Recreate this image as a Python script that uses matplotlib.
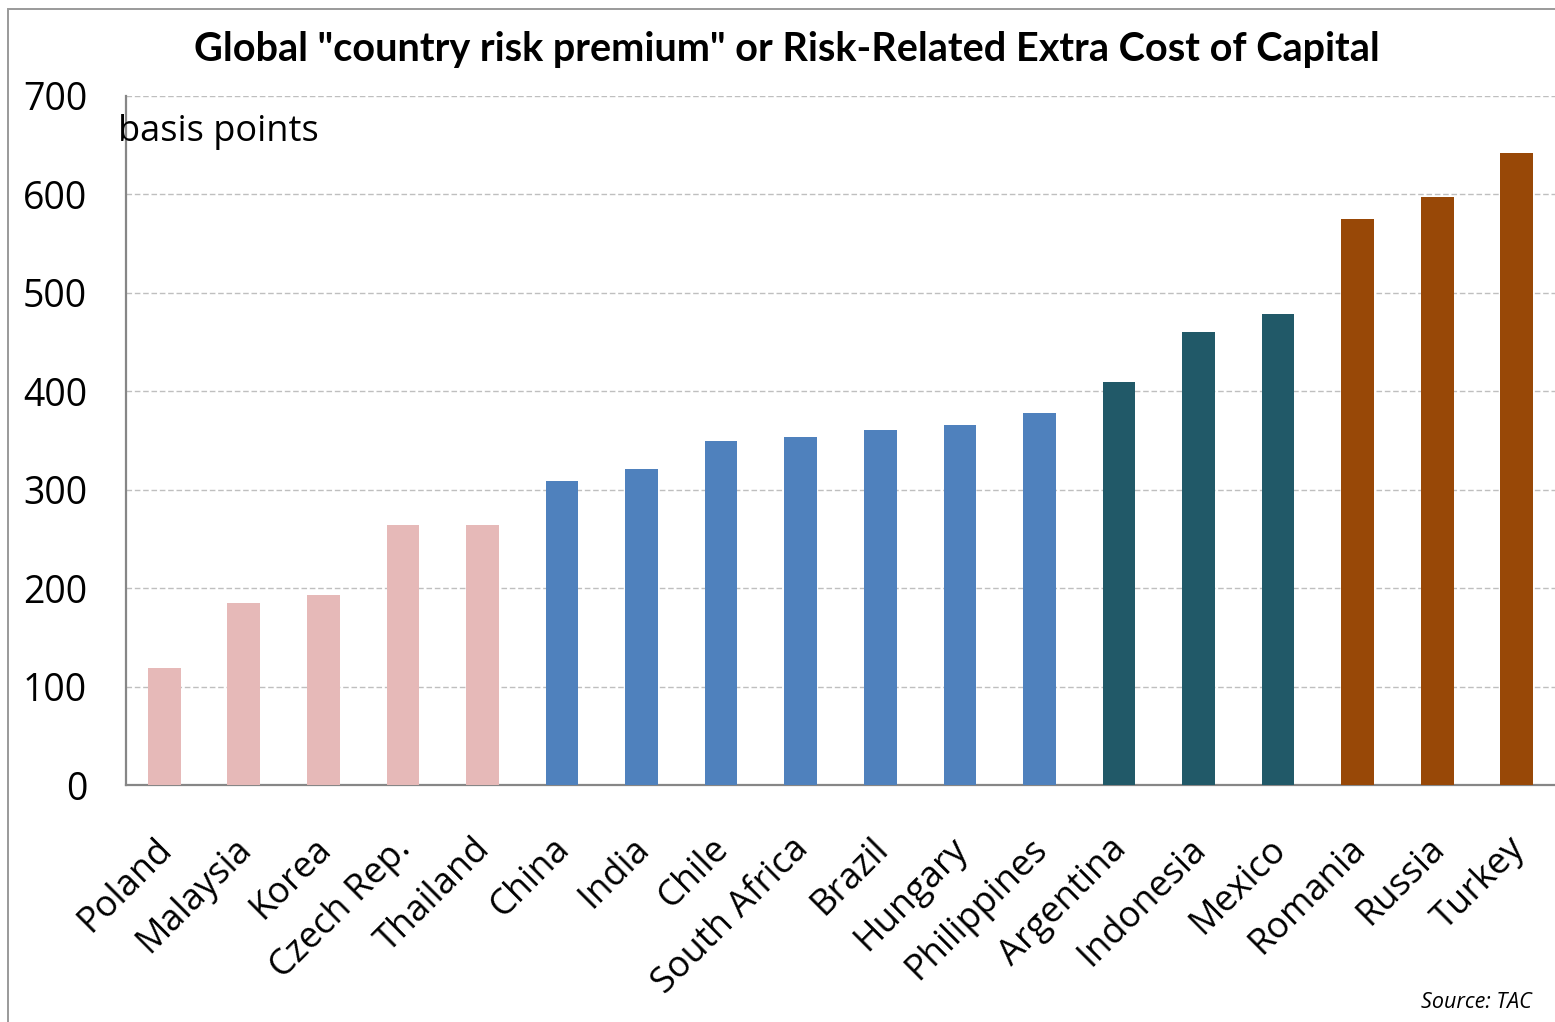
import matplotlib
matplotlib.use("Agg")
import matplotlib.pyplot as plt
import matplotlib.transforms as mtransforms
from matplotlib.patches import Rectangle

countries = ["Poland", "Malaysia", "Korea", "Czech Rep.", "Thailand", "China",
             "India", "Chile", "South Africa", "Brazil", "Hungary", "Philippines",
             "Argentina", "Indonesia", "Mexico", "Romania", "Russia", "Turkey"]
premium_bp = [119, 185, 193, 264, 264, 309, 321, 349, 354, 361, 366, 378,
              409, 460, 479, 575, 597, 642]
risk_group = ["low"] * 5 + ["mid"] * 7 + ["high"] * 3 + ["top"] * 3
group_colors = {"low": "#E6B9B8", "mid": "#4F81BD", "high": "#215968", "top": "#984807"}
y_ticks = [0, 100, 200, 300, 400, 500, 600, 700]

plt.rcParams["font.family"] = ["Open Sans", "DejaVu Sans"]

W, H = 1555, 1022
fig = plt.figure(figsize=(W / 100, H / 100), dpi=100)
ax = fig.add_axes([126 / W, 1 - 785 / H, (W - 126) / W, (785 - 96) / H])

x = list(range(len(countries)))
ax.bar(x, premium_bp, width=0.41, color=[group_colors[g] for g in risk_group], zorder=3)

ax.set_xlim(-0.48, len(countries) - 0.52)
ax.set_ylim(0, 700)
ax.set_yticks(y_ticks)
ax.set_yticklabels([str(v) for v in y_ticks], fontsize=27)
ax.yaxis.grid(True, linestyle=(0, (4, 2)), color="#BFBFBF", linewidth=1.0, zorder=0)
ax.tick_params(axis="both", length=0)
ax.tick_params(axis="y", pad=28)
ax.set_xticks(x)
ax.set_xticklabels(countries, rotation=45, ha="right", rotation_mode="anchor", fontsize=26)
ax.tick_params(axis="x", pad=33)

# nudge the slanted category labels slightly left
shift = mtransforms.ScaledTranslation(-10 / 100, 0, fig.dpi_scale_trans)
for lbl in ax.get_xticklabels():
    lbl.set_transform(lbl.get_transform() + shift)

for side in ["top", "right"]:
    ax.spines[side].set_visible(False)
for side in ["left", "bottom"]:
    ax.spines[side].set_color("#868686")
    ax.spines[side].set_linewidth(1.6)

fig.text(787 / W, 1 - 50 / H, 'Global "country risk premium" or Risk-Related Extra Cost of Capital',
         ha="center", va="center", fontsize=28.5, fontweight="bold", family=["Lato", "DejaVu Sans"])
fig.text(118 / W, 1 - 132 / H, "basis points", ha="left", va="center", fontsize=26)
fig.text(1532 / W, 1 - 1002 / H, "Source: TAC", ha="right", va="center", fontsize=15.5, style="italic")

fig.patches.append(Rectangle((8 / W, -0.1), 1.5, 1 - 9 / H + 0.1, transform=fig.transFigure,
                             fill=False, edgecolor="#9A9A9A", linewidth=1.4))

fig.savefig("out.png", dpi=100)
